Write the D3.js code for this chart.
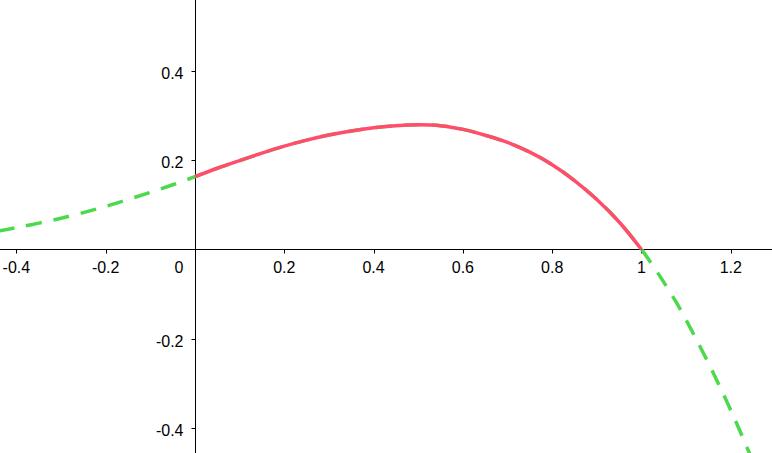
<!DOCTYPE html>
<html>
<head>
<meta charset="utf-8">
<script src="https://cdn.jsdelivr.net/npm/d3@7/dist/d3.min.js"></script>
<style>
  html, body { margin: 0; padding: 0; background: #fff; }
  svg { display: block; }
  text { font-family: "Liberation Sans", Arial, sans-serif; font-size: 16px; fill: #000; }
</style>
</head>
<body>
<svg id="chart" width="772" height="453"></svg>
<script>
// Values
const xValues = [-0.44, -0.40, -0.35, -0.30, -0.25, -0.20, -0.15, -0.10, -0.05, 0.00,
                 0.05, 0.10, 0.15, 0.20, 0.25, 0.30, 0.35, 0.40, 0.45, 0.50,
                 0.55, 0.60, 0.65, 0.70, 0.75, 0.80, 0.85, 0.90, 0.95, 1.00,
                 1.04, 1.08, 1.12, 1.16, 1.20, 1.24, 1.28];
const yValues = [0.0415, 0.049, 0.059, 0.070, 0.0825, 0.0965, 0.112, 0.128, 0.145, 0.163,
                 0.182, 0.199, 0.216, 0.2315, 0.245, 0.2565, 0.2655, 0.2725, 0.2773, 0.2792,
                 0.2772, 0.269, 0.256, 0.240, 0.218, 0.190, 0.1545, 0.112, 0.0615, 0.000,
                 -0.058, -0.122, -0.196, -0.275, -0.360, -0.452, -0.550];
const highlightRange = [0, 1];
const xTicks = [-0.4, -0.2, 0.2, 0.4, 0.6, 0.8, 1, 1.2];
const yTicks = [-0.4, -0.2, 0.2, 0.4];
const xTickLabels = ["-0.4", "-0.2", "0.2", "0.4", "0.6", "0.8", "1", "1.2"];
const yTickLabels = ["-0.4", "-0.2", "0.2", "0.4"];
const originLabel = "0";

const W = 772, H = 453;
const svg = d3.select("#chart");

const x = d3.scaleLinear().domain([-0.4367, 1.2923]).range([0, W]);
const y = d3.scaleLinear().domain([-0.4558, 0.5588]).range([H, 0]);

const pts = xValues.map((v, i) => [v, yValues[i]]);
const redPts = pts.filter(p => p[0] >= highlightRange[0] && p[0] <= highlightRange[1]);

const line = d3.line()
  .x(d => x(d[0]))
  .y(d => y(d[1]))
  .curve(d3.curveCatmullRom.alpha(0.5));

const X0 = Math.round(x(0)) + 0.5;
const Y0 = Math.round(y(0)) + 0.5;

// axes
const ax = svg.append("g").attr("stroke", "#000").attr("stroke-width", 1);
ax.append("line").attr("x1", 0).attr("x2", W).attr("y1", Y0).attr("y2", Y0);
ax.append("line").attr("x1", X0).attr("x2", X0).attr("y1", 0).attr("y2", H);

xTicks.forEach(t => {
  const px = Math.round(x(t)) + 0.5;
  ax.append("line").attr("x1", px).attr("x2", px).attr("y1", Y0).attr("y2", Y0 + 4);
});
yTicks.forEach(t => {
  const py = Math.round(y(t)) + 0.5;
  ax.append("line").attr("x1", X0 - 4).attr("x2", X0).attr("y1", py).attr("y2", py);
});

// labels
const lab = svg.append("g");
xTicks.forEach((t, i) => {
  lab.append("text").attr("x", x(t)).attr("y", Y0 + 23.5)
    .attr("text-anchor", "middle").text(xTickLabels[i]);
});
yTicks.forEach((t, i) => {
  lab.append("text").attr("x", X0 - 12).attr("y", y(t) + 8)
    .attr("text-anchor", "end").text(yTickLabels[i]);
});
lab.append("text").attr("x", X0 - 12).attr("y", Y0 + 23.5)
  .attr("text-anchor", "end").text(originLabel);

// dashed green full curve
svg.append("path")
  .attr("d", line(pts))
  .attr("fill", "none")
  .attr("stroke", "#4cd94c")
  .attr("stroke-width", 3.5)
  .attr("stroke-dasharray", "16,12");

// red solid on [0,1]
svg.append("path")
  .attr("d", line(redPts))
  .attr("fill", "none")
  .attr("stroke", "#ff4d6b")
  .attr("stroke-width", 3.5);
</script>
</body>
</html>
